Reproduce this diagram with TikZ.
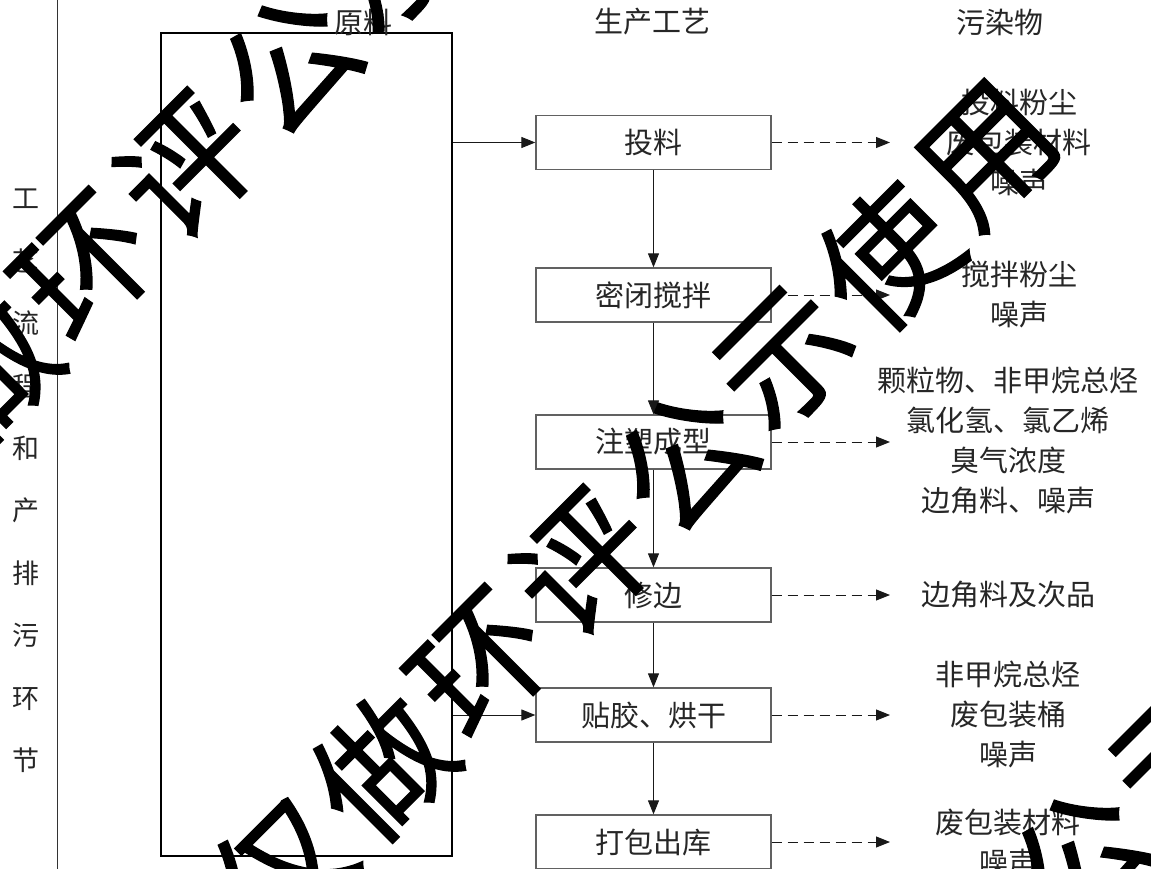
\documentclass[tikz,border=0pt]{standalone}
\usepackage{fontspec}
\setmainfont{Noto Sans CJK SC}
\newfontfamily\wmfont[FakeBold=1]{Noto Sans CJK SC}
\usetikzlibrary{arrows.meta,calc}
\definecolor{txt}{gray}{0.15}
\definecolor{boxline}{gray}{0.38}
\begin{document}
\begin{tikzpicture}[x=1pt,y=-1pt,
  procbox/.style={draw=boxline, line width=1.3pt, minimum width=235pt, minimum height=54pt, inner sep=0pt, text=txt, font=\fontsize{29}{36}\selectfont},
  poll/.style={align=center, inner sep=0pt, text=txt, font=\fontsize{29}{40}\selectfont},
  hdr/.style={inner sep=0pt, text=txt, font=\fontsize{29}{36}\selectfont},
  flow/.style={-{Triangle[length=14pt,width=11pt]}, line width=1pt, draw=black!90},
  dflow/.style={flow, dash pattern=on 10pt off 6pt},
  wmark/.style={rotate=45, inner sep=0pt, text=black, font=\wmfont\fontsize{134}{134}\selectfont}]
\useasboundingbox (0,0) rectangle (1151,869);
\fill[white] (0,0) rectangle (1151,869);

% divider line
\coordinate (dtop) at (57,0);
\coordinate (dbot) at (57,869);
\draw[line width=1pt, black!80] (dtop) -- (dbot);

% left vertical label
\node[align=center, inner sep=0pt, text=txt, font=\fontsize{27}{62.44}\selectfont] (lab) at (26,481)
  {工\\艺\\流\\程\\和\\产\\排\\污\\环\\节};

% raw material column
\node[draw=black, line width=2pt, minimum width=291pt, minimum height=823pt, inner sep=0pt] (raw) at (306.5,444.5) {};

% headers
\node[hdr] (h1) at (363,22) {原料};
\node[hdr] (h2) at (652,22) {生产工艺};
\node[hdr] (h3) at (1000,22) {污染物};

% process boxes
\node[procbox] (p1) at (653.5,142.5) {投料};
\node[procbox] (p2) at (653.5,295) {密闭搅拌};
\node[procbox] (p3) at (653.5,442) {注塑成型};
\node[procbox] (p4) at (653.5,595) {修边};
\node[procbox] (p5) at (653.5,715) {贴胶、烘干};
\node[procbox] (p6) at (653.5,842) {打包出库};

% pollutants
\node[poll] (q1) at (1019,143) {投料粉尘\\废包装材料\\噪声};
\node[poll] (q2) at (1019,295) {搅拌粉尘\\噪声};
\node[poll] (q3) at (1008,440) {颗粒物、非甲烷总烃\\氯化氢、氯乙烯\\臭气浓度\\边角料、噪声};
\node[poll] (q4) at (1008,595) {边角料及次品};
\node[poll] (q5) at (1008,714) {非甲烷总烃\\废包装桶\\噪声};
\node[poll] (q6) at (1008,842) {废包装材料\\噪声};

% arrows
\coordinate (tipx) at (890,0);
\draw[flow] (raw.east |- p1.west) -- (p1.west);
\draw[flow] (raw.east |- p5.west) -- (p5.west);
\draw[flow] (p1) -- (p2);
\draw[flow] (p2) -- (p3);
\draw[flow] (p3) -- (p4);
\draw[flow] (p4) -- (p5);
\draw[flow] (p5) -- (p6);
\foreach \k in {1,...,6}{
  \draw[dflow] (p\k.east) -- (p\k.east -| tipx);
}

% watermark
\begin{scope}
\clip (0,0) rectangle (1151,869);
\foreach \bx/\by in {-115/472, 281/869, 677/1266}{
  \foreach \c [count=\i from 0] in {仅,做,环,评,公,示,使,用}{
    \node[wmark] at ($(\bx,\by)+\i*(101,-102)$) {\c};
  }
}
\end{scope}
\end{tikzpicture}
\end{document}
